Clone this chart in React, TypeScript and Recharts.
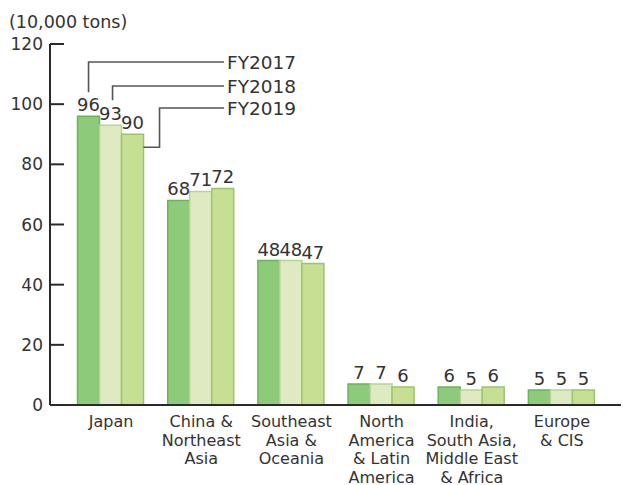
import React from 'react';
import { BarChart, Bar, XAxis, YAxis, LabelList } from 'recharts';

// 地域別の販売量（単位：万トン）
const categories = [
  'Japan',
  'China &\nNortheast\nAsia',
  'Southeast\nAsia &\nOceania',
  'North\nAmerica\n& Latin\nAmerica',
  'India,\nSouth Asia,\nMiddle East\n& Africa',
  'Europe\n& CIS',
];
const fy2017 = [96, 68, 48, 7, 6, 5];
const fy2018 = [93, 71, 48, 7, 5, 5];
const fy2019 = [90, 72, 47, 6, 6, 5];
const yTicks = [0, 20, 40, 60, 80, 100, 120];

const data = categories.map((name, i) => ({
  name,
  fy2017: fy2017[i],
  fy2018: fy2018[i],
  fy2019: fy2019[i],
}));

const FONT = '"DejaVu Sans", sans-serif';
const TEXT = '#333';
const AXIS = '#2a2a2a';
const LEADER = '#555';

// 凡例の引き出し線のテキスト位置
const LEGEND_X = 227;

const CategoryTick = (props: any) => {
  const { x, y, payload } = props;
  const lines = String(payload.value).split('\n');
  return (
    <text x={x} y={y + 22} textAnchor="middle" fontFamily={FONT} fontSize={16} fill={TEXT}>
      {lines.map((l, i) => (
        <tspan key={i} x={x} dy={i === 0 ? 0 : 18.5}>{l}</tspan>
      ))}
    </text>
  );
};

const ValueTick = (props: any) => {
  const { x, y, payload } = props;
  return (
    <g>
      <line x1={x} y1={y} x2={x + 14} y2={y} stroke={AXIS} strokeWidth={2} />
      <text x={x - 7} y={y + 6} textAnchor="end" fontFamily={FONT} fontSize={17} fill={TEXT}>
        {payload.value}
      </text>
    </g>
  );
};

// 値ラベル + 日本の棒には凡例の引き出し線
const makeLabel = (series: string) => (props: any) => {
  const { x, y, width, value, index } = props;
  const cx = x + width / 2;
  const label = (
    <text x={cx} y={y - 5} textAnchor="middle" fontFamily={FONT} fontSize={18} fill={TEXT}>
      {value}
    </text>
  );
  if (index !== 0) return label;

  let path = '';
  let ty = 0;
  if (series === 'FY2017') {
    ty = 62;
    path = `M${cx},${y - 24} V${ty} H${LEGEND_X - 3}`;
  } else if (series === 'FY2018') {
    ty = 86;
    path = `M${cx + 2},${y - 25} V${ty} H${LEGEND_X - 3}`;
  } else {
    ty = 108;
    path = `M${x + width},${y + 13} H${x + width + 16} V${ty} H${LEGEND_X - 3}`;
  }
  return (
    <g>
      {label}
      <path d={path} fill="none" stroke={LEADER} strokeWidth={1.6} />
      <text x={LEGEND_X} y={ty + 7} fontFamily={FONT} fontSize={18.5} fill={TEXT}>
        {series}
      </text>
    </g>
  );
};

const App: React.FC = () => {
  return (
    <div style={{ position: 'absolute', left: 0, top: 0, background: '#fff' }}>
      <BarChart
        width={623}
        height={485}
        data={data}
        margin={{ top: 44, right: 2, bottom: 0, left: 0 }}
        barCategoryGap="12.8%"
        barGap={0}
      >
        <XAxis
          dataKey="name"
          interval={0}
          height={80}
          padding={{ left: 16, right: 14 }}
          tickLine={false}
          tickSize={0}
          tickMargin={0}
          axisLine={{ stroke: AXIS, strokeWidth: 2 }}
          tick={<CategoryTick />}
        />
        <YAxis
          width={50}
          domain={[0, 120]}
          ticks={yTicks}
          interval={0}
          tickLine={false}
          tickSize={0}
          tickMargin={0}
          axisLine={{ stroke: AXIS, strokeWidth: 2 }}
          tick={<ValueTick />}
          label={{
            content: () => (
              <text x={9} y={28} fontFamily={FONT} fontSize={17.5} fill={TEXT}>
                (10,000 tons)
              </text>
            ),
          }}
        />
        <Bar dataKey="fy2017" name="FY2017" fill="#8dca7a" stroke="#6db35c" strokeWidth={1.5} isAnimationActive={false}>
          <LabelList dataKey="fy2017" content={makeLabel('FY2017')} />
        </Bar>
        <Bar dataKey="fy2018" name="FY2018" fill="#dfeac2" stroke="#b5d596" strokeWidth={1.5} isAnimationActive={false}>
          <LabelList dataKey="fy2018" content={makeLabel('FY2018')} />
        </Bar>
        <Bar dataKey="fy2019" name="FY2019" fill="#c6df93" stroke="#98c66a" strokeWidth={1.5} isAnimationActive={false}>
          <LabelList dataKey="fy2019" content={makeLabel('FY2019')} />
        </Bar>
      </BarChart>
    </div>
  );
};

export default App;
